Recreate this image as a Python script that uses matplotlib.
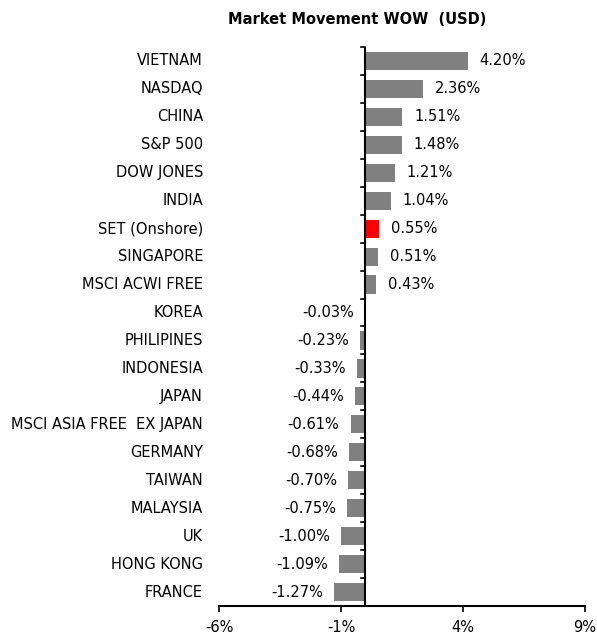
import numpy as np
import matplotlib
matplotlib.use('Agg')
import matplotlib.pyplot as plt

# ─── DATA ───
markets = ['VIETNAM', 'NASDAQ', 'CHINA', 'S&P 500', 'DOW JONES', 'INDIA',
           'SET (Onshore)', 'SINGAPORE', 'MSCI ACWI FREE', 'KOREA', 'PHILIPINES',
           'INDONESIA', 'JAPAN', 'MSCI ASIA FREE  EX JAPAN', 'GERMANY', 'TAIWAN',
           'MALAYSIA', 'UK', 'HONG KONG', 'FRANCE']
wow_pct = [4.20, 2.36, 1.51, 1.48, 1.21, 1.04, 0.55, 0.51, 0.43, -0.03, -0.23,
           -0.33, -0.44, -0.61, -0.68, -0.70, -0.75, -1.00, -1.09, -1.27]
highlight = 'SET (Onshore)'
xticks = [-6, -1, 4, 9]

FS = 10.5
fig = plt.figure(figsize=(5.97, 6.35), dpi=100)
ax = fig.add_axes([219/597, 1 - 606/635, (585-219)/597, (606-47)/635])

y = np.arange(len(markets))
colors = ['#ff0000' if m == highlight else '#808080' for m in markets]
ax.barh(y, wow_pct, height=0.65, color=colors, zorder=2)

ax.set_ylim(len(markets) - 0.5, -0.5)
ax.set_xlim(-6, 9)

# value labels
for yi, v in zip(y, wow_pct):
    if v >= 0:
        ax.annotate(f'{v:.2f}%', xy=(v, yi), xytext=(8.5, 0), textcoords='offset points',
                    ha='left', va='center', fontsize=FS)
    else:
        ax.annotate(f'{v:.2f}%', xy=(v, yi), xytext=(-8, 0), textcoords='offset points',
                    ha='right', va='center', fontsize=FS)

# category labels at the left edge of the plot
for yi, m in zip(y, markets):
    ax.annotate(m, xy=(0, yi), xycoords=('axes fraction', 'data'), xytext=(-11.5, 0),
                textcoords='offset points', ha='right', va='center', fontsize=FS)

# spines
for s in ['top', 'right', 'left']:
    ax.spines[s].set_visible(False)
ax.spines['bottom'].set_linewidth(1.5)
ax.axvline(0, color='black', linewidth=1.5, zorder=3)

ax.set_xticks(xticks)
ax.set_xticklabels([f'{t}%' for t in xticks], fontsize=FS)
ax.tick_params(axis='x', direction='out', length=4, width=1.2, pad=6)
ax.set_yticks([])

# small ticks on zero line at category boundaries
for b in np.arange(-0.5, len(markets), 1.0):
    ax.plot([-0.18, 0], [b, b], color='black', linewidth=1.2, zorder=3, clip_on=False)

fig.text(357/597, 1 - 20/635, 'Market Movement WOW  (USD)', ha='center', va='center',
         fontsize=FS, fontweight='bold')

plt.savefig('out.png', dpi=100)
